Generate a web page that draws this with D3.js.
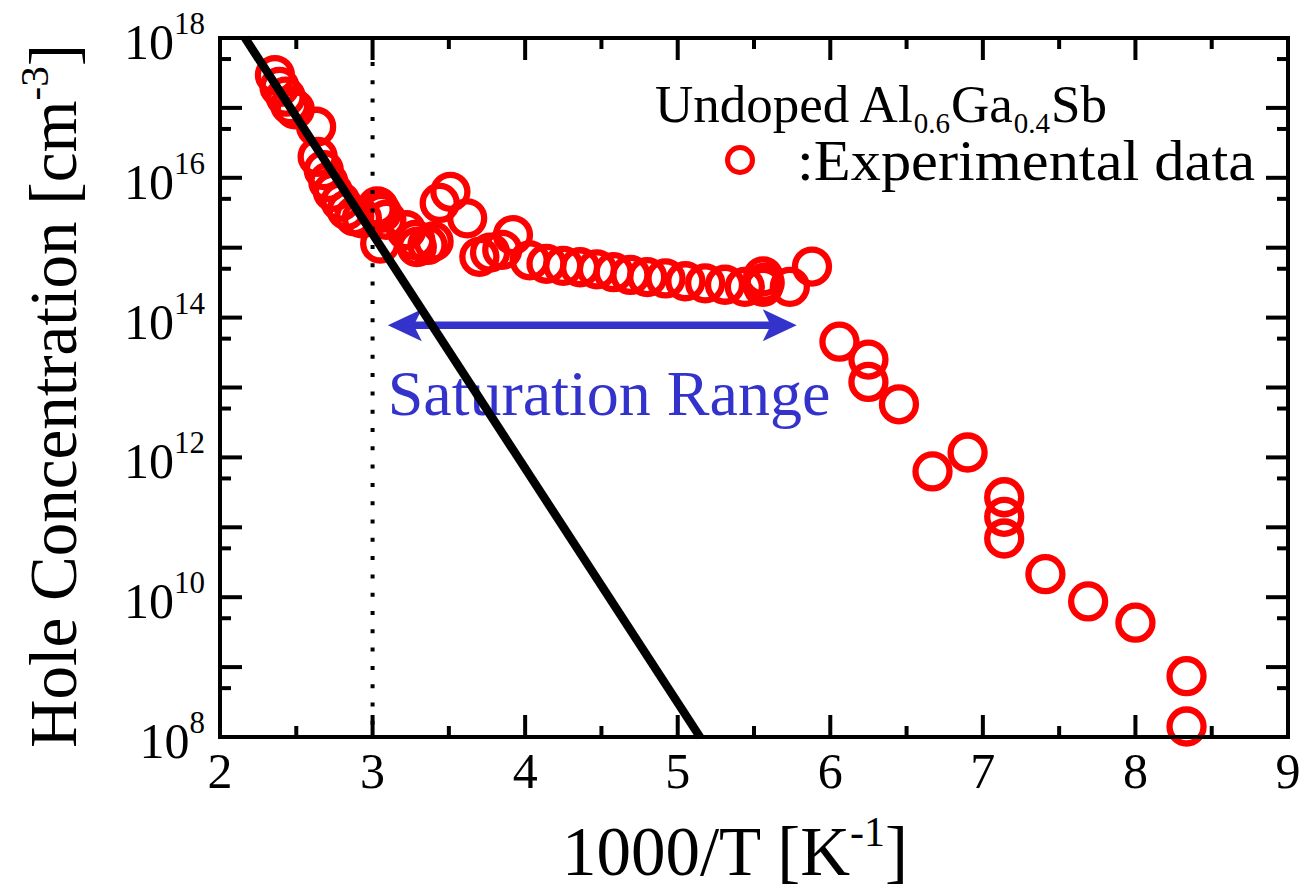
<!DOCTYPE html>
<html>
<head>
<meta charset="utf-8">
<script src="https://cdn.jsdelivr.net/npm/d3@7"></script>
<style>
  html, body { margin: 0; padding: 0; background: #fff; }
  svg { display: block; }
  text { font-family: "Liberation Serif", "Times New Roman", serif; }
</style>
</head>
<body>
<svg id="chart" width="1299" height="894"></svg>
<script>
// ---- data ----
const xTicks = [2, 3, 4, 5, 6, 7, 8, 9];
const yTickExps = [8, 10, 12, 14, 16, 18];

// experimental data: 1000/T and log10(hole concentration)
const expX = [2.36, 2.39, 2.43, 2.46, 2.49, 2.63, 2.64, 2.68, 2.71, 2.74, 2.79, 2.83, 2.88, 2.93,
  3.02, 3.03, 3.04, 3.05, 3.06, 3.09, 3.05, 3.22, 3.28, 3.29, 3.36, 3.40, 3.44, 3.51, 3.62,
  3.70, 3.77, 3.85, 3.92, 4.03, 4.14, 4.25, 4.36, 4.47, 4.58, 4.69, 4.80, 4.92, 5.05, 5.18,
  5.31, 5.44, 5.56, 5.56, 5.57, 5.735, 5.88,
  6.06, 6.25, 6.25, 6.45, 6.67, 6.90, 7.14, 7.14, 7.14, 7.41, 7.69, 8.00, 8.335, 8.335];
const expLogP = [17.47, 17.30, 17.16, 17.04, 16.98, 16.73, 16.30, 16.11, 15.94, 15.80, 15.66, 15.54, 15.45, 15.42,
  15.55, 15.59, 15.58, 15.52, 15.50, 15.40, 15.06, 15.25, 15.11, 15.01, 15.04, 15.09, 15.64, 15.80, 15.42,
  14.87, 14.93, 14.97, 15.18, 14.82, 14.77, 14.74, 14.72, 14.69, 14.65, 14.61, 14.58, 14.56, 14.52, 14.49,
  14.47, 14.44, 14.59, 14.44, 14.50, 14.44, 14.73,
  13.655, 13.40, 13.08, 12.76, 11.80, 12.07, 11.43, 11.15, 10.84, 10.33, 9.94, 9.635, 8.87, 8.15];

// theoretical fit line (endpoints)
const fitX = [2.164, 5.146];
const fitLogP = [18, 8];

// saturation range arrow
const satX = [3.10, 5.78];
const satLogP = 13.89;
const dottedX = 3;

// ---- layout ----
const svg = d3.select("#chart");
const L = 220, R = 1288, T = 38, B = 737;
const x = d3.scaleLinear().domain([2, 9]).range([L, R]);
const y = d3.scaleLog().domain([1e8, 1e18]).range([B, T]);

const red = "#ff0000", blue = "#3333cc";

// arrow
const ay = y(Math.pow(10, satLogP));
const ax0 = x(satX[0]), ax1 = x(satX[1]);
svg.append("line").attr("x1", ax0 + 20).attr("x2", ax1 - 20).attr("y1", ay).attr("y2", ay)
  .attr("stroke", blue).attr("stroke-width", 7.5);
function head(tip, dir) {
  const len = 34, half = 16, notch = 26;
  return `M${tip},${ay} L${tip + dir * len},${ay - half} L${tip + dir * notch},${ay} L${tip + dir * len},${ay + half} Z`;
}
svg.append("path").attr("d", head(ax0, 1)).attr("fill", blue);
svg.append("path").attr("d", head(ax1, -1)).attr("fill", blue);

svg.append("text").attr("x", 609).attr("y", 415).attr("text-anchor", "middle")
  .attr("font-size", 64).attr("fill", blue).text("Saturation Range");

// experimental circles
const pts = expX.map((v, i) => [v, Math.pow(10, expLogP[i])]);
svg.append("g").selectAll("circle").data(pts).join("circle")
  .attr("cx", d => x(d[0])).attr("cy", d => y(d[1])).attr("r", 17)
  .attr("fill", "none").attr("stroke", red).attr("stroke-width", 6.3);

// fit line
const fitPts = fitX.map((v, i) => [v, Math.pow(10, fitLogP[i])]);
svg.append("path").datum(fitPts)
  .attr("d", d3.line().x(d => x(d[0])).y(d => y(d[1])))
  .attr("stroke", "#000").attr("stroke-width", 8.5).attr("fill", "none");

// dotted line
svg.append("line").attr("x1", x(dottedX)).attr("x2", x(dottedX)).attr("y1", 62).attr("y2", B)
  .attr("stroke", "#000").attr("stroke-width", 4).attr("stroke-dasharray", "4,14.3");

// ---- axes ----
const axW = 4;
const xMajor = xTicks, xMinor = d3.range(2.5, 9, 1);
const yMajor = d3.range(8, 19).map(e => Math.pow(10, e));
const yMinor = d3.range(8, 18).map(e => 5 * Math.pow(10, e));
const g = svg.append("g").attr("stroke", "#000").attr("stroke-width", axW);
xMajor.forEach(v => {
  g.append("line").attr("x1", x(v)).attr("x2", x(v)).attr("y1", B).attr("y2", B - 22);
  g.append("line").attr("x1", x(v)).attr("x2", x(v)).attr("y1", T).attr("y2", T + 22);
});
xMinor.forEach(v => {
  g.append("line").attr("x1", x(v)).attr("x2", x(v)).attr("y1", B).attr("y2", B - 11);
  g.append("line").attr("x1", x(v)).attr("x2", x(v)).attr("y1", T).attr("y2", T + 11);
});
yMajor.forEach(v => {
  g.append("line").attr("x1", L).attr("x2", L + 22).attr("y1", y(v)).attr("y2", y(v));
  g.append("line").attr("x1", R).attr("x2", R - 22).attr("y1", y(v)).attr("y2", y(v));
});
yMinor.forEach(v => {
  g.append("line").attr("x1", L).attr("x2", L + 11).attr("y1", y(v)).attr("y2", y(v));
  g.append("line").attr("x1", R).attr("x2", R - 11).attr("y1", y(v)).attr("y2", y(v));
});
svg.append("rect").attr("x", L).attr("y", T).attr("width", R - L).attr("height", B - T)
  .attr("fill", "none").attr("stroke", "#000").attr("stroke-width", axW);

// tick labels
svg.append("g").selectAll("text").data(xTicks).join("text")
  .attr("x", d => x(d)).attr("y", 788).attr("text-anchor", "middle")
  .attr("font-size", 50).text(d => d);
const yl = svg.append("g").selectAll("text").data(yTickExps).join("text")
  .attr("x", 205).attr("y", d => y(Math.pow(10, d)) + 21).attr("text-anchor", "end")
  .attr("font-size", 50);
yl.append("tspan").text("10");
yl.append("tspan").attr("dy", -25).attr("font-size", 31).text(d => d);

// axis titles
const xt = svg.append("text").attr("x", 735).attr("y", 875).attr("text-anchor", "middle").attr("font-size", 69);
xt.append("tspan").text("1000/T [K");
xt.append("tspan").attr("dy", -29).attr("font-size", 42).text("-1");
xt.append("tspan").attr("dy", 29).text("]");

const ytl = svg.append("text").attr("transform", "translate(76,396) rotate(-90)")
  .attr("text-anchor", "middle").attr("font-size", 67);
ytl.append("tspan").text("Hole Concentration [cm");
ytl.append("tspan").attr("dy", -28).attr("font-size", 41).text("-3");
ytl.append("tspan").attr("dy", 28).text("]");

// legend
const lg = svg.append("text").attr("x", 655).attr("y", 122).attr("font-size", 53);
lg.append("tspan").text("Undoped Al");
lg.append("tspan").attr("dx", 1).attr("dy", 11).attr("font-size", 29).text("0.6");
lg.append("tspan").attr("dx", 1).attr("dy", -11).text("Ga");
lg.append("tspan").attr("dx", 1).attr("dy", 11).attr("font-size", 29).text("0.4");
lg.append("tspan").attr("dx", 1).attr("dy", -11).text("Sb");
svg.append("circle").attr("cx", 740).attr("cy", 160).attr("r", 12.5)
  .attr("fill", "none").attr("stroke", red).attr("stroke-width", 5);
svg.append("text").attr("x", 797).attr("y", 180).attr("font-size", 57)
  .attr("textLength", 458).attr("lengthAdjust", "spacingAndGlyphs").text(":Experimental data");
</script>
</body>
</html>
